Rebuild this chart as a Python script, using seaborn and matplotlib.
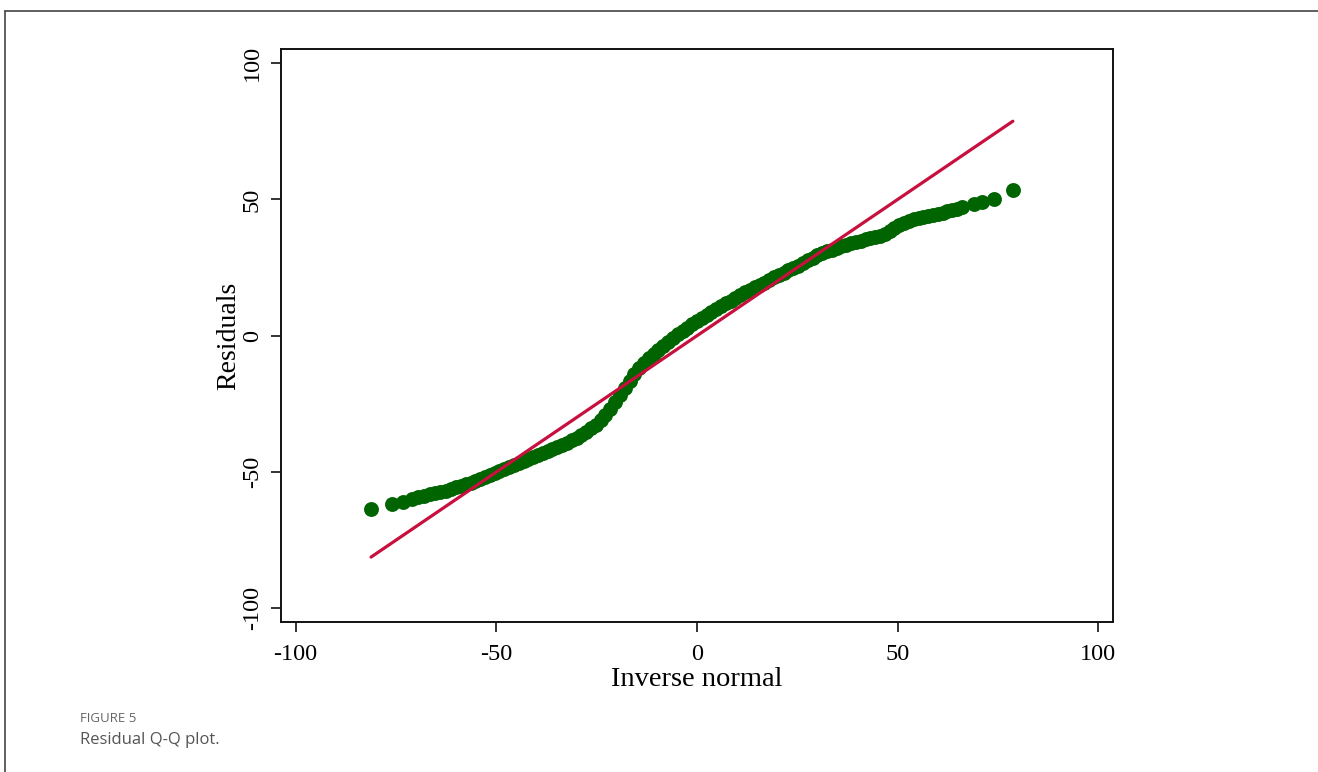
import pandas as pd
import matplotlib.pyplot as plt
import seaborn as sns
from matplotlib.lines import Line2D

# Квантили нормального распределения (ось X) и остатки (ось Y)
inv_normal = [
    -81.2, -76.1, -73.2, -71.0, -69.5, -68.0, -66.6, -65.2, -63.9, -62.6,
    -61.3, -60.0, -58.8, -57.6, -56.4, -55.2, -54.0, -52.8, -51.6, -50.4,
    -49.2, -48.0, -46.8, -45.6, -44.4, -43.2, -42.0, -40.8, -39.6, -38.4,
    -37.2, -36.0, -34.8, -33.6, -32.4, -31.2, -30.0, -28.8, -27.6, -26.4,
    -25.2, -24.0, -22.8, -21.6, -20.4, -19.2, -18.0, -16.8, -15.6, -14.4,
    -13.2, -12.0, -10.8, -9.6, -8.4, -7.2, -6.0, -4.8, -3.6, -2.4,
    -1.2, 0.0, 1.2, 2.4, 3.6, 4.8, 6.0, 7.2, 8.4, 9.6,
    10.8, 12.0, 13.2, 14.4, 15.6, 16.8, 18.0, 19.2, 20.4, 21.6,
    22.8, 24.0, 25.2, 26.4, 27.6, 28.8, 30.0, 31.2, 32.4, 33.6,
    34.8, 36.0, 37.2, 38.4, 39.6, 40.8, 42.0, 43.2, 44.4, 45.6,
    46.8, 48.0, 49.2, 50.4, 51.6, 52.8, 54.0, 55.2, 56.4, 57.6,
    58.8, 60.0, 61.2, 62.4, 63.6, 64.8, 66.0, 68.9, 71.0, 73.9,
    78.7,
]
residuals = [
    -63.7, -61.6, -61.1, -59.9, -59.2, -58.7, -58.2, -57.8, -57.3, -56.8,
    -56.2, -55.6, -55.0, -54.5, -53.9, -53.3, -52.6, -51.9, -51.2, -50.5,
    -49.7, -48.9, -48.0, -47.3, -46.6, -45.8, -45.1, -44.4, -43.7, -42.9,
    -42.2, -41.5, -40.7, -40.0, -39.2, -38.3, -37.4, -36.4, -35.3, -34.0,
    -32.6, -30.9, -29.0, -26.8, -24.4, -21.8, -19.2, -16.6, -14.1, -11.9,
    -10.0, -8.3, -6.8, -5.3, -3.8, -2.3, -0.9, 0.5, 1.8, 3.0,
    4.2, 5.3, 6.5, 7.6, 8.8, 9.9, 10.9, 11.9, 12.9, 13.9,
    14.9, 15.9, 16.9, 17.8, 18.6, 19.5, 20.5, 21.4, 22.3, 23.2,
    24.0, 24.8, 25.6, 26.8, 27.7, 28.6, 29.5, 30.3, 31.0, 31.6,
    32.2, 32.8, 33.4, 33.9, 34.4, 34.9, 35.4, 35.8, 36.2, 36.7,
    37.4, 38.4, 39.5, 40.5, 41.4, 42.1, 42.7, 43.2, 43.6, 44.0,
    44.4, 44.8, 45.2, 45.6, 46.1, 46.6, 47.2, 48.3, 49.0, 50.0,
    53.4,
]

x_ticks = [-100, -50, 0, 50, 100]
y_ticks = [-100, -50, 0, 50, 100]

df = pd.DataFrame({'inv': inv_normal, 'res': residuals})
# Опорная линия y = x от минимального до максимального квантиля
ref = pd.DataFrame({'x': [inv_normal[0], inv_normal[-1]],
                    'y': [inv_normal[0], inv_normal[-1]]})

sns.set_style('white')
plt.rcParams['font.family'] = ['Liberation Serif', 'DejaVu Serif']
plt.rcParams['axes.unicode_minus'] = False
plt.rcParams['text.color'] = 'black'

fig = plt.figure(figsize=(13.18, 7.72), dpi=100)
ax = fig.add_axes([0.213, 0.194, 0.6313, 0.7422])

sns.scatterplot(data=df, x='inv', y='res', ax=ax, color='#006400',
                s=115, linewidth=0, alpha=1, zorder=2)
sns.lineplot(data=ref, x='x', y='y', ax=ax, color='#c8103e',
             linewidth=2.3, zorder=3)

ax.set_xlim(-103.7, 103.6)
ax.set_ylim(-105.1, 105.1)
ax.set_xticks(x_ticks)
ax.set_yticks(y_ticks)
ax.set_xticklabels([str(t) for t in x_ticks], fontsize=17.5)
ax.set_yticklabels([str(t) for t in y_ticks], fontsize=17.5, rotation=90, va='center')
ax.tick_params(axis='both', direction='out', length=7, width=1.2, color='#111111',
               labelcolor='black', bottom=True, left=True)
ax.tick_params(axis='x', pad=9)
ax.tick_params(axis='y', pad=6)
ax.set_xlabel('Inverse normal', fontsize=20.5, labelpad=1, color='black')
ax.set_ylabel('Residuals', fontsize=20, labelpad=0, color='black')
for sp in ax.spines.values():
    sp.set_linewidth(1.4)
    sp.set_color('#111111')

# Рамка страницы и подпись рисунка
fig.add_artist(Line2D([5 / 1318, 1.0], [1 - 11 / 772, 1 - 11 / 772],
                      color='#444444', linewidth=1.2))
fig.add_artist(Line2D([5 / 1318, 5 / 1318], [0.0, 1 - 11 / 772],
                      color='#444444', linewidth=1.2))
fig.text(80 / 1318, 1 - 718 / 772, 'FIGURE 5', fontsize=9.5, color='#666666',
         family=['Open Sans', 'DejaVu Sans'], va='center')
fig.text(80 / 1318, 1 - 740 / 772, 'Residual Q-Q plot.', fontsize=12, color='#555555',
         family=['Open Sans', 'DejaVu Sans'], va='center')

fig.savefig('out.png', dpi=100)
